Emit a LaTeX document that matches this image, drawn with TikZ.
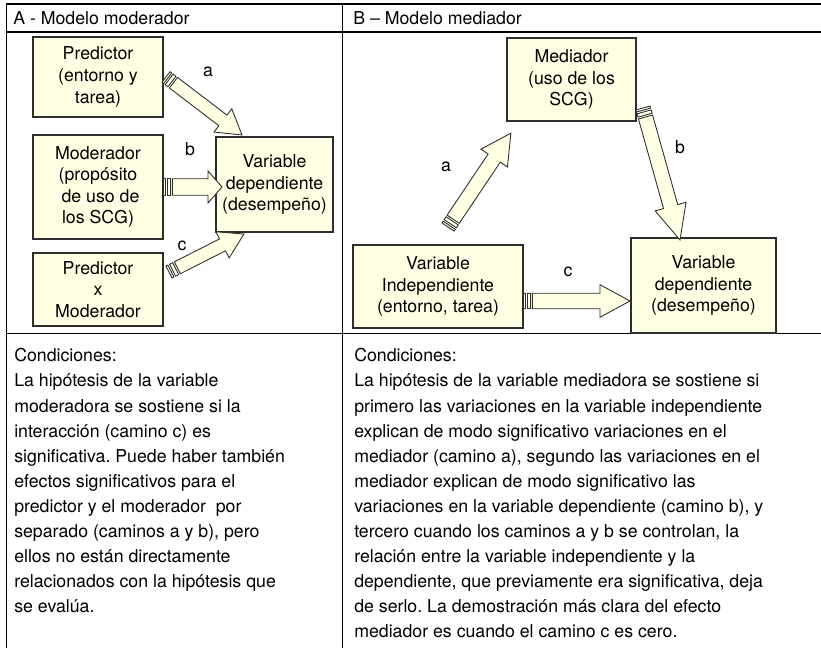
\documentclass[tikz,border=0pt]{standalone}
\usepackage{fontspec}
\setmainfont{TeX Gyre Heros}
\usetikzlibrary{calc}
\definecolor{cream}{RGB}{255,255,228}
\definecolor{edgecol}{RGB}{45,45,45}
\tikzset{
 bx/.style={draw=edgecol, line width=0.9pt, fill=cream, inner sep=0pt, align=center, font=\fontsize{13.3}{16.2}\selectfont},
 arrowsty/.style={draw=edgecol, line width=0.65pt, fill=cream, line join=miter},
 txt/.style={anchor=base west, inner sep=0pt, font=\fontsize{13.3}{18.75}\selectfont},
 lbl/.style={inner sep=0pt, font=\fontsize{13.3}{15}\selectfont},
 rulel/.style={line width=1pt, black}
}
% #1 tail, #2 tip, #3 shaft half width (pt), #4 head half width (pt), #5 head length (pt)
\newcommand\stripedarrow[5]{%
 \path let \p1=($(#2)-(#1)$) in \pgfextra{%
   \pgfmathsetmacro\tmpang{atan2(\y1,\x1)}%
   \pgfmathsetmacro\tmplen{veclen(\x1,\y1)}%
   \xdef\Garrang{\tmpang}\xdef\Garrlen{\tmplen}};
 \begin{scope}[shift={(#1)}, rotate=\Garrang]
   \draw[arrowsty] (0pt,-#3pt) rectangle (1.6pt,#3pt);
   \draw[arrowsty] (3.0pt,-#3pt) rectangle (5.6pt,#3pt);
   \draw[arrowsty] (7.0pt,-#3pt) -- ({\Garrlen pt - #5 pt},-#3pt) -- ({\Garrlen pt - #5 pt},-#4pt)
     -- (\Garrlen pt,0pt) -- ({\Garrlen pt - #5 pt},#4pt) -- ({\Garrlen pt - #5 pt},#3pt) -- (7.0pt,#3pt) -- cycle;
 \end{scope}}
\begin{document}
\begin{tikzpicture}[x=0.75pt,y=-0.75pt]
\frenchspacing
\useasboundingbox (0,0) rectangle (821,648);
% table rules
\draw[rulel] (6.5,648) -- (6.5,4) -- (821,4);
\draw[rulel] (6.5,32) -- (821,32);
\draw[rulel] (6.5,333.5) -- (821,333.5);
\draw[rulel] (342.5,4) -- (342.5,648);
% headers
\node[txt] (hA) at (13,25) {A - Modelo moderador};
\node[txt] (hB) at (353,25) {B – Modelo mediador};
% panel A boxes
\node[bx, minimum width=97.5pt, minimum height=60pt] (A1) at (98,77) {Predictor\\(entorno y\\tarea)};
\node[bx, minimum width=97.5pt, minimum height=78pt] (A2) at (98,187) {Moderador\\(propósito\\\ de uso de\\los SCG)};
\node[bx, minimum width=97.5pt, minimum height=54.75pt] (A3) at (98,289.5) {Predictor\\x\\Moderador};
\node[bx, minimum width=87.75pt, minimum height=71.25pt] (A4) at (274.5,184.5) {Variable\\dependiente\\(desempeño)};
% panel B boxes
\node[bx, minimum width=96.75pt, minimum height=62.25pt] (B1) at (571.5,79.5) {Mediador\\(uso de los\\SCG)};
\node[bx, minimum width=127.5pt, minimum height=62.25pt] (B2) at (438,286.5) {Variable\\Independiente\\(entorno, tarea)};
\node[bx, minimum width=108.75pt, minimum height=71.25pt] (B3) at (703.5,285.5) {Variable\\dependiente\\(desempeño)};
% arrow end points
\coordinate (aAt) at (166,77);  \coordinate (aAh) at (242,135);
\coordinate (bAt) at (163,187); \coordinate (bAh) at (222,187);
\coordinate (cAt) at (169,272); \coordinate (cAh) at (244,234);
\coordinate (aBt) at (448,227); \coordinate (aBh) at (511,133);
\coordinate (bBt) at (643,108); \coordinate (bBh) at (680,240);
\coordinate (cBt) at (523,301); \coordinate (cBh) at (630,301);
\stripedarrow{aAt}{aAh}{5}{11}{18}
\stripedarrow{bAt}{bAh}{6.2}{12}{10.5}
\stripedarrow{cAt}{cAh}{5}{11}{18}
\stripedarrow{aBt}{aBh}{5.5}{12}{22.5}
\stripedarrow{bBt}{bBh}{5.5}{12}{26}
\stripedarrow{cBt}{cBh}{5.8}{12.2}{22.5}
% labels
\node[lbl] (la) at (208,72) {a};
\node[lbl] (lb) at (190,149) {b};
\node[lbl] (lc) at (182,246) {c};
\node[lbl] (ma) at (446,167) {a};
\node[lbl] (mb) at (680,147) {b};
\node[lbl] (mc) at (568,272) {c};
% condition texts
\foreach \t [count=\i] in {Condiciones:,
 La hipótesis de la variable,
 moderadora se sostiene si la,
 interacción (camino c) es,
 significativa. Puede haber también,
 efectos significativos para el,
 predictor y el moderador~ por,
 {separado (caminos a y b), pero},
 ellos no están directamente,
 relacionados con la hipótesis que,
 se evalúa.}
 \node[txt] (L\i) at (14,{362+25*(\i-1)}) {\t};
\foreach \t [count=\i] in {Condiciones:,
 La hipótesis de la variable mediadora se sostiene si,
 primero las variaciones en la variable independiente,
 explican de modo significativo variaciones en el,
 {mediador (camino a), segundo las variaciones en el},
 mediador explican de modo significativo las,
 {variaciones en la variable dependiente (camino b), y},
 {tercero cuando los caminos a y b se controlan, la},
 relación entre la variable independiente y la,
 {dependiente, que previamente era significativa, deja},
 de serlo. La demostración más clara del efecto,
 mediador es cuando el camino c es cero.}
 \node[txt] (R\i) at (354,{362+25*(\i-1)}) {\t};
\end{tikzpicture}
\end{document}
